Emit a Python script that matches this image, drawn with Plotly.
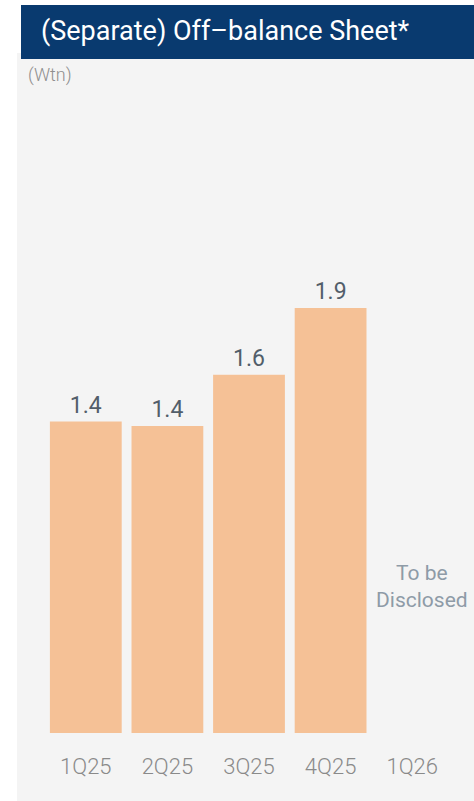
import plotly.graph_objects as go

categories = ["1Q25", "2Q25", "3Q25", "4Q25", "1Q26"]
values = [1.40, 1.38, 1.61, 1.91, None]
value_labels = ["1.4", "1.4", "1.6", "1.9", ""]
unit_label = "(Wtn)"
title_text = "(Separate) Off–balance Sheet*"
pending_text = "To be<br>Disclosed"

W, H = 474, 801
L, R, T, B = 45, 21, 100, 68
pw, ph = W - L - R, H - T - B


def px(x):
    return (x - L) / pw


def py(y):
    return (H - B - y) / ph


fig = go.Figure()
fig.add_trace(go.Bar(
    x=categories, y=values,
    text=value_labels, textposition="outside",
    textfont=dict(family="Roboto", size=23, color="#525E6A"),
    marker=dict(color="#F5C196", line=dict(width=0)),
    cliponaxis=False, hoverinfo="skip",
))

shapes = [
    dict(type="rect", xref="paper", yref="paper", layer="below",
         x0=px(17), x1=px(W + 5), y0=py(H + 5), y1=py(53),
         fillcolor="#F4F4F4", line=dict(width=0)),
    dict(type="rect", xref="paper", yref="paper", layer="above",
         x0=px(21), x1=px(W + 5), y0=py(59), y1=py(5),
         fillcolor="#093A6F", line=dict(width=0)),
]

annotations = [
    dict(text=title_text, xref="paper", yref="paper", x=px(39), y=py(31),
         xanchor="left", yanchor="middle", showarrow=False,
         font=dict(family="Roboto", size=27, color="white")),
    dict(text=unit_label, xref="paper", yref="paper", x=px(26), y=py(75),
         xanchor="left", yanchor="middle", showarrow=False,
         font=dict(family="Roboto", size=18, color="#8F8F8F", weight=300)),
    dict(text=pending_text, xref="x", yref="y", x="1Q26", y=0.66,
         xanchor="center", yanchor="middle", showarrow=False, xshift=10,
         font=dict(family="Roboto", size=21, color="#8E9BA7")),
]

fig.update_layout(
    width=W, height=H,
    margin=dict(l=L, r=R, t=T, b=B, pad=0),
    paper_bgcolor="white", plot_bgcolor="rgba(0,0,0,0)",
    bargap=0.12, showlegend=False,
    shapes=shapes, annotations=annotations,
    xaxis=dict(type="category", categoryorder="array", categoryarray=categories,
               range=[-0.5, 4.5], showgrid=False, zeroline=False, showline=False,
               ticks="outside", ticklen=14, tickcolor="rgba(0,0,0,0)",
               tickfont=dict(family="Roboto", size=22, color="#8A8A8A", weight=300)),
    yaxis=dict(range=[0, ph / 222.5], visible=False, showgrid=False, zeroline=False),
)

fig.write_html("out.html", config={"displayModeBar": False},
               post_script="document.body.style.margin='0';")
